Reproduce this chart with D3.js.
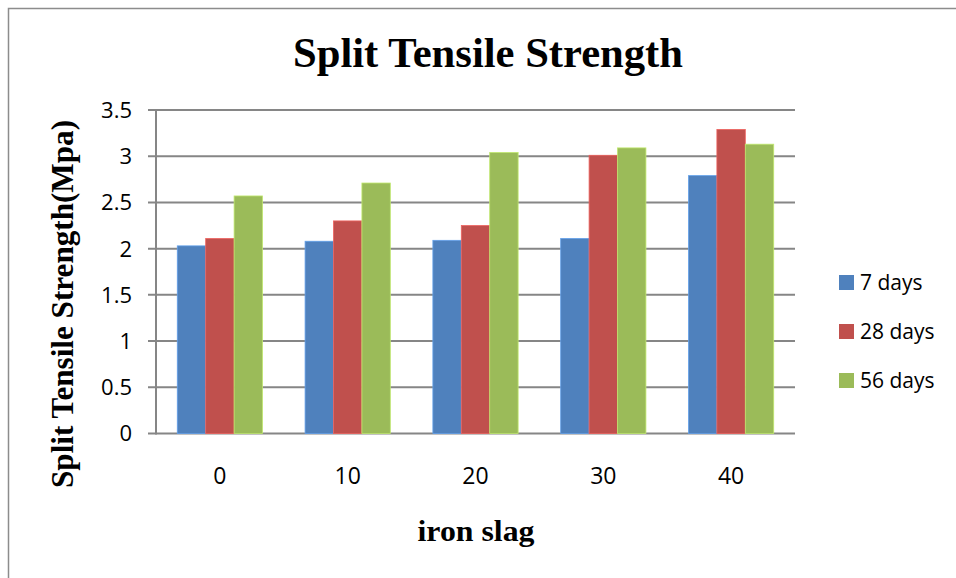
<!DOCTYPE html>
<html>
<head>
<meta charset="utf-8">
<script src="https://cdn.jsdelivr.net/npm/d3@7"></script>
<style>
  html, body { margin: 0; padding: 0; background: #fff; }
  svg { display: block; }
</style>
</head>
<body>
<svg id="chart" width="956" height="578"></svg>
<script>
// Split tensile strength (MPa) by iron slag replacement (%) and curing age
const categories = ["0", "10", "20", "30", "40"];
const seriesNames = ["7 days", "28 days", "56 days"];
const days7  = [2.03, 2.08, 2.09, 2.11, 2.79];
const days28 = [2.11, 2.30, 2.25, 3.01, 3.29];
const days56 = [2.57, 2.71, 3.04, 3.09, 3.13];
const yTicks = [0, 0.5, 1, 1.5, 2, 2.5, 3, 3.5];
const colors = ["#4F81BD", "#C0504D", "#9BBB59"];

const seriesValues = [days7, days28, days56];
const svg = d3.select("#chart");
const sansFont = "'Open Sans', 'Noto Sans', sans-serif";
const serifFont = "'Liberation Serif', 'Times New Roman', serif";

// outer chart frame
svg.append("rect")
  .attr("x", 8.5).attr("y", 8.5)
  .attr("width", 960).attr("height", 580)
  .attr("fill", "none").attr("stroke", "#8c8c8c").attr("stroke-width", 1.5);

const plot = { left: 156, right: 795, top: 110, bottom: 433.5 };

const x0 = d3.scaleBand().domain(categories)
  .range([plot.left, plot.right]).paddingInner(0.333).paddingOuter(0.1665);
const x1 = d3.scaleBand().domain(seriesNames).range([0, x0.bandwidth()]);
const y = d3.scaleLinear().domain([0, 3.5]).range([plot.bottom, plot.top]);

// horizontal gridlines
svg.append("g").selectAll("line").data(yTicks).join("line")
  .attr("x1", plot.left - 8).attr("x2", plot.right)
  .attr("y1", d => y(d)).attr("y2", d => y(d))
  .attr("stroke", "#868686").attr("stroke-width", 2);

// bars
const groups = svg.append("g").selectAll("g").data(categories).join("g")
  .attr("transform", d => `translate(${x0(d)},0)`);
groups.selectAll("rect")
  .data((c, i) => seriesNames.map((s, k) => ({ s, k, v: seriesValues[k][i] })))
  .join("rect")
  .attr("x", d => x1(d.s))
  .attr("width", x1.bandwidth())
  .attr("y", d => y(d.v))
  .attr("height", d => y(0) - y(d.v))
  .attr("fill", d => colors[d.k])
  .attr("stroke", d => d3.color(colors[d.k]).brighter(0.6))
  .attr("stroke-width", 0.8);

// y axis line
svg.append("line")
  .attr("x1", plot.left).attr("x2", plot.left)
  .attr("y1", plot.top).attr("y2", plot.bottom + 1)
  .attr("stroke", "#868686").attr("stroke-width", 2);

// y tick labels
svg.append("g").selectAll("text").data(yTicks).join("text")
  .attr("x", 132).attr("y", d => y(d))
  .attr("dy", "0.36em")
  .attr("text-anchor", "end")
  .attr("font-family", sansFont)
  .attr("font-size", 22)
  .attr("fill", "#000")
  .text(d => d3.format("")(d));

// x tick labels
svg.append("g").selectAll("text").data(categories).join("text")
  .attr("x", d => x0(d) + x0.bandwidth() / 2)
  .attr("y", 484)
  .attr("text-anchor", "middle")
  .attr("font-family", sansFont)
  .attr("font-size", 23)
  .attr("fill", "#000")
  .text(d => d);

// title
svg.append("text")
  .attr("x", 488).attr("y", 67)
  .attr("text-anchor", "middle")
  .attr("font-family", serifFont)
  .attr("font-weight", "bold")
  .attr("font-size", 42)
  .attr("textLength", 390).attr("lengthAdjust", "spacingAndGlyphs")
  .text("Split Tensile Strength");

// axis titles
svg.append("text")
  .attr("transform", `translate(73,304) rotate(-90)`)
  .attr("text-anchor", "middle")
  .attr("font-family", serifFont)
  .attr("font-weight", "bold")
  .attr("font-size", 32)
  .attr("textLength", 368).attr("lengthAdjust", "spacingAndGlyphs")
  .text("Split Tensile Strength(Mpa)");

svg.append("text")
  .attr("x", 476).attr("y", 541)
  .attr("text-anchor", "middle")
  .attr("font-family", serifFont)
  .attr("font-weight", "bold")
  .attr("font-size", 30)
  .attr("textLength", 117).attr("lengthAdjust", "spacingAndGlyphs")
  .text("iron slag");

// legend
const legend = svg.append("g").selectAll("g").data(seriesNames).join("g")
  .attr("transform", (d, i) => `translate(839,${282.5 + i * 49})`);
legend.append("rect")
  .attr("x", 0).attr("y", -7.5).attr("width", 15).attr("height", 15)
  .attr("fill", (d, i) => colors[i]);
legend.append("text")
  .attr("x", 21).attr("y", 0).attr("dy", "0.36em")
  .attr("font-family", sansFont)
  .attr("font-size", 21)
  .attr("fill", "#000")
  .text(d => d);
</script>
</body>
</html>
